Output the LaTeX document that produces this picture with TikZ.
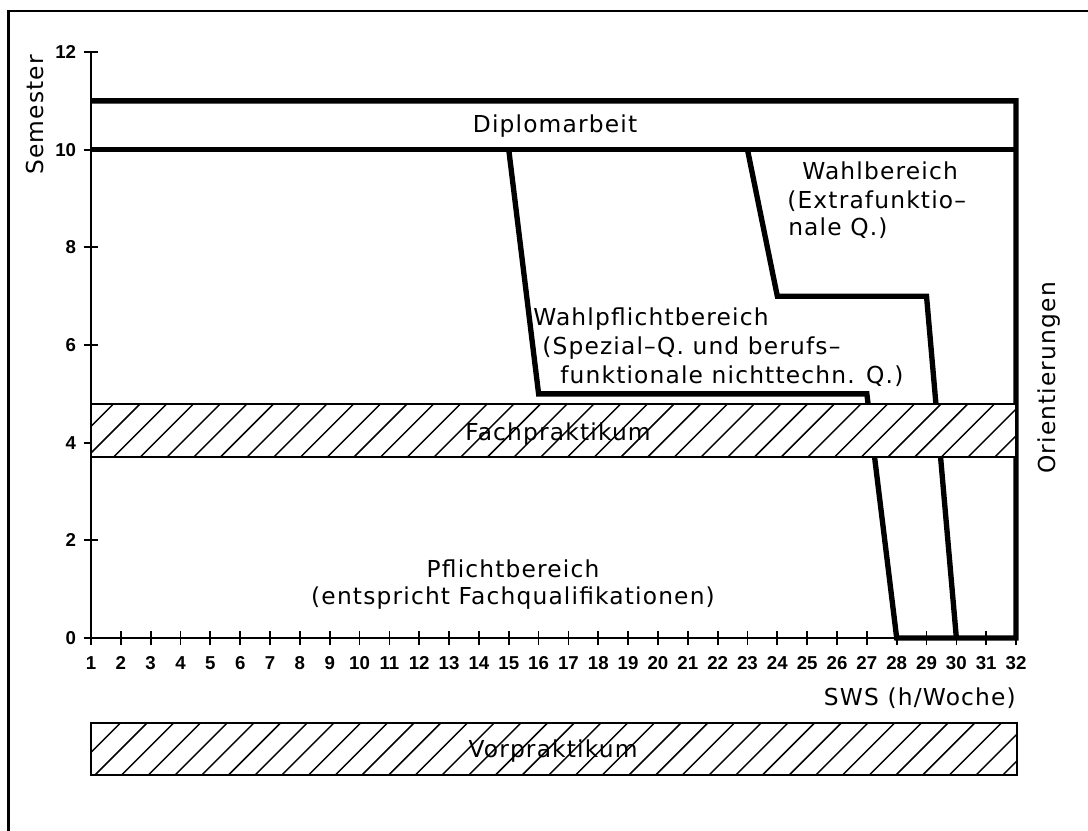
\documentclass[tikz,border=0pt]{standalone}
\usepackage{fontspec}
\setmainfont{DejaVu Sans}[LetterSpace=5]
\newfontfamily\tickfont{Liberation Sans}
\begin{document}
\begin{tikzpicture}[x=0.75pt,y=-0.75pt,
  frameline/.style={line width=1.6pt},
  axisline/.style={line width=1.3pt},
  thickline/.style={line width=4pt, line join=miter},
  hatchline/.style={line width=1.1pt},
  bandborder/.style={line width=1.3pt},
  lbl/.style={inner sep=0pt, font=\fontsize{17.5}{20}\selectfont},
  ticklbl/.style={inner sep=0pt, font=\tickfont\bfseries\fontsize{14}{16}\selectfont}]
\useasboundingbox (0,0) rectangle (1088,831);
\fill[white] (0,0) rectangle (1088,831);
% outer frame (cut by image edges)
\draw[frameline] (8.5,831) -- (8.5,11) -- (1088,11);

\begin{scope}[shift={(61.16,638)}, x=22.38pt, y=36.6225pt]
  % axes
  \draw[axisline] (1,12) -- (1,0) -- (32,0);
  \foreach \v in {0,2,...,12} {
    \draw[axisline] ([xshift=-5.5pt]1,\v) -- ([xshift=5pt]1,\v);
    \node[ticklbl, anchor=east] (yl\v) at ([xshift=-11pt]1,\v) {\v};
  }
  \foreach \s in {1,...,32} {
    \draw[axisline] ([yshift=-5.5pt]\s,0) -- ([yshift=5.5pt]\s,0);
    \node[ticklbl] (xl\s) at ([yshift=-18.5pt]\s,0) {\s};
  }
  % region boundaries
  \draw[thickline] (1,11) -- (32,11) -- (32,0) -- (28,0) -- (27,5) -- (16,5) -- (15,10);
  \draw[thickline] (1,10) -- (32,10);
  \draw[thickline] (23,10) -- (24,7) -- (29,7) -- (30,0);
\end{scope}

% Fachpraktikum band
\fill[white] (91,404) rectangle (1016,457);
\begin{scope}
  \clip (91,404) rectangle (1016,457);
  \foreach \k in {-2,...,37} {
    \draw[hatchline] ({113.3+26.7*\k-53},457) -- ({113.3+26.7*\k},404);
  }
\end{scope}
\draw[bandborder] (91,404) rectangle (1016,457);
\node[lbl, anchor=base] (fach) at (558,440) {Fachpraktikum};

% Vorpraktikum band
\begin{scope}
  \clip (91,723) rectangle (1017,775);
  \foreach \k in {-2,...,37} {
    \draw[hatchline] ({121.7+26.7*\k},775) -- ({121.7+26.7*\k+52},723);
  }
\end{scope}
\draw[bandborder] (91,723) rectangle (1017,775);
\node[lbl, anchor=base] (vor) at (553,757) {Vorpraktikum};

% labels
\node[lbl, anchor=base] (dipl) at (555,133) {Diplomarbeit};
\node[lbl, anchor=base west] (wahlA) at (802,180) {Wahlbereich};
\node[lbl, anchor=base west] (wahlB) at (787,208) {(Extrafunktio–};
\node[lbl, anchor=base west] (wahlC) at (788,235) {nale Q.)};
\node[lbl, anchor=base west] (wpA) at (533,325) {Wahlpflichtbereich};
\node[lbl, anchor=base west] (wpB) at (542,354) {(Spezial–Q. und berufs–};
\node[lbl, anchor=base west] (wpC) at (560,383) {funktionale nichttechn. Q.)};
\node[lbl, anchor=base] (pfA) at (513,577) {Pflichtbereich};
\node[lbl, anchor=base] (pfB) at (513,604) {(entspricht Fachqualifikationen)};
\node[lbl, anchor=base east] (sws) at (1016,705) {SWS (h/Woche)};
\node[lbl, anchor=base, rotate=90] (sem) at (43,115) {Semester};
\node[lbl, anchor=base, rotate=90] (ori) at (1055,378) {Orientierungen};
\end{tikzpicture}
\end{document}
